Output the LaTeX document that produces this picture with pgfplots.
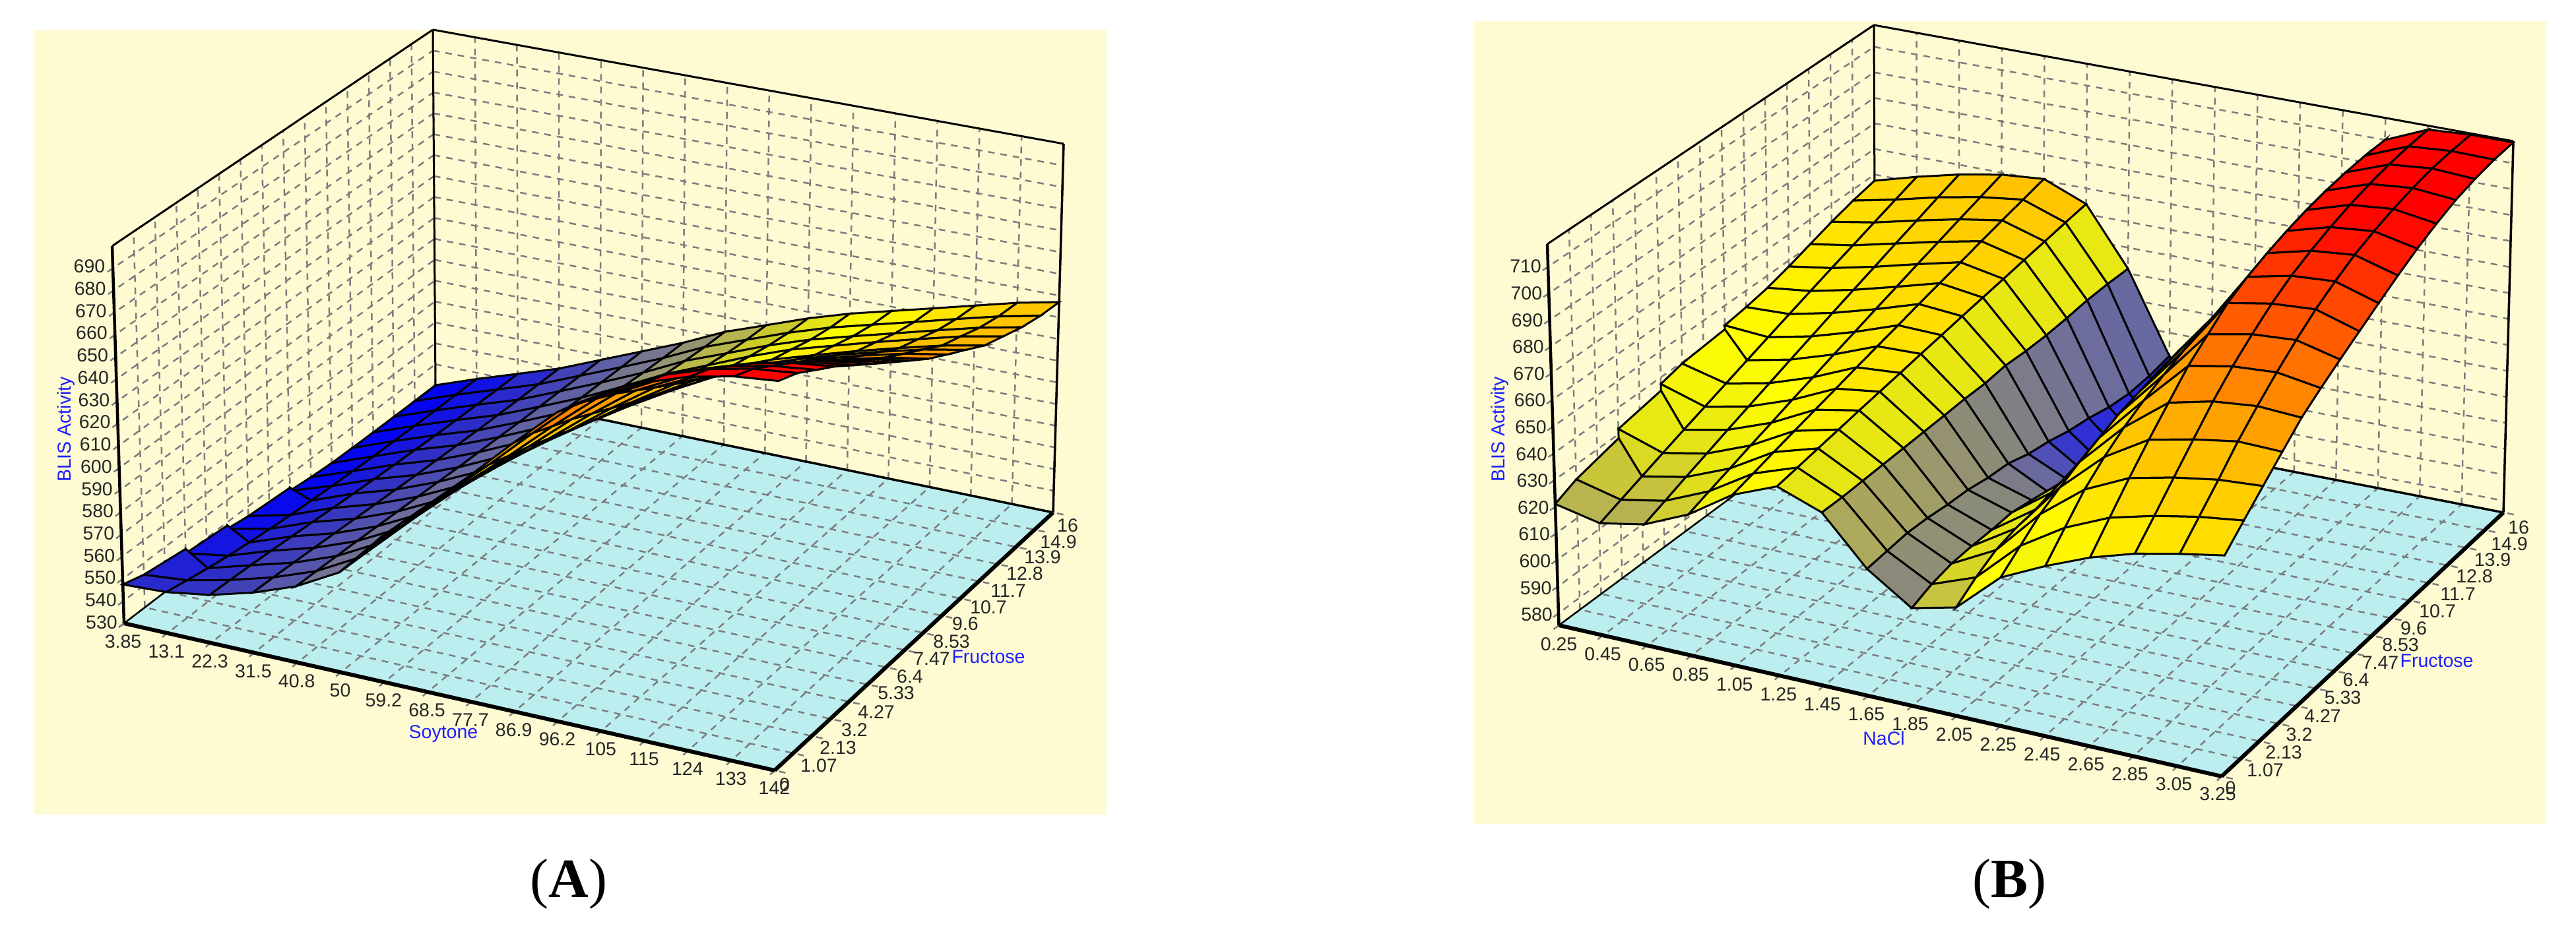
\documentclass[border=0pt]{standalone}
\usepackage{fontspec}
\setmainfont{Liberation Sans}
\newfontfamily\capf{Liberation Serif}
\usepackage{pgfplots}
\pgfplotsset{compat=1.18}
\definecolor{bgc}{RGB}{254,251,211}
\definecolor{floorc}{RGB}{188,238,240}
\definecolor{gridc}{RGB}{125,125,125}
\definecolor{labc}{RGB}{30,30,255}
\tikzset{
 lb/.style={font=\fontsize{28.5}{30}\selectfont,inner sep=0pt,anchor=center,text=black!85},
 tl/.style={lb,text=labc},
 captxt/.style={font=\fontsize{84}{90}\selectfont\capf,inner sep=0pt,anchor=center}}
\pgfplotsset{
 panel/.style={scale only axis,width=1952pt,height=1409pt,ymin=0,ymax=1409,y dir=reverse,hide axis,clip=false},
 gfl/.style={no markers,gridc,line width=2.5pt,dash pattern=on 10pt off 9pt},
 gwl/.style={no markers,gridc,line width=2.5pt,dash pattern=on 10pt off 9pt},
 fr/.style={no markers,black,line width=#1}}
\newcommand\seg[7]{\addplot[#1,forget plot] table[row sep=\\,header=false,
  x expr={PX(\thisrowno{0}/15,\thisrowno{1}/15,NZ(\thisrowno{2}))},
  y expr={PY(\thisrowno{0}/15,\thisrowno{1}/15,NZ(\thisrowno{2}))}]{#2 #3 #4\\#5 #6 #7\\};}
\newcommand\floorq[1]{\addplot[draw=none,fill=floorc,forget plot] table[row sep=\\,header=false,
  x expr={PX(\thisrowno{0}/15,\thisrowno{1}/15,NZ(\thisrowno{2}))},
  y expr={PY(\thisrowno{0}/15,\thisrowno{1}/15,NZ(\thisrowno{2}))}]{0 0 #1\\15 0 #1\\15 15 #1\\0 15 #1\\} --cycle;}
\newcommand\walls[3]{%
 \pgfplotsinvokeforeach{0,...,15}{\seg{gfl}{##1}{-0.25}{#1}{##1}{15}{#1}\seg{gfl}{15.25}{##1}{#1}{0}{##1}{#1}\seg{gwl}{##1}{15}{#1}{##1}{15}{#2}\seg{gwl}{0}{##1}{#1}{0}{##1}{#2}}
 \pgfplotsinvokeforeach{#3}{\seg{gwl}{0}{-0.25}{##1}{0}{15}{##1}\seg{gwl}{0}{15}{##1}{15}{15}{##1}}
 \seg{fr=2.5pt}{0}{0}{#1}{0}{15}{#1}\seg{fr=3.5pt}{0}{15}{#1}{15}{15}{#1}
 \seg{fr=3pt}{0}{15}{#1}{0}{15}{#2}\seg{fr=3.5pt}{15}{15}{#1}{15}{15}{#2}
 \seg{fr=3pt}{0}{0}{#2}{0}{15}{#2}\seg{fr=3pt}{0}{15}{#2}{15}{15}{#2}
 \seg{fr=6pt}{0}{0}{#1}{15}{0}{#1}\seg{fr=6pt}{15}{0}{#1}{15}{15}{#1}\seg{fr=4.5pt}{0}{0}{#1}{0}{0}{#2}}
\newcommand\xl[2]{\node[lb] at (axis cs:{\xa+\xb*#1},{\ya+\yb*#1}) {#2};}
\newcommand\yl[3]{\node[lb] at (axis cs:#1,#2) {#3};}
\begin{document}
\begin{tikzpicture}
\def\xa{186.5}\def\xb{65.8}\def\ya{973}\def\yb{14.8}
\begin{axis}[panel,at={(0pt,0pt)},xmin=0,xmax=1952,
 declare function={
  PX(\u,\v,\w)=(1-\w)*((1-\v)*((1-\u)*188+\u*1174)+\v*((1-\u)*660+\u*1596))+\w*((1-\v)*((1-\u)*170+\u*1180)+\v*((1-\u)*656+\u*1612));
  PY(\u,\v,\w)=(1-\w)*((1-\v)*((1-\u)*945+\u*1168)+\v*((1-\u)*584+\u*777))+\w*((1-\v)*((1-\u)*373+\u*556)+\v*((1-\u)*45+\u*218));
  NZ(\z)=(\z-530)/170;},
 colormap={cmA}{rgb255(535)=(0,0,245) rgb255(548)=(45,45,200) rgb255(555)=(70,70,180) rgb255(565)=(105,105,160) rgb255(575)=(130,130,130) rgb255(585)=(175,175,90) rgb255(595)=(205,205,40) rgb255(608)=(255,255,0) rgb255(625)=(255,200,0) rgb255(648)=(255,140,0) rgb255(665)=(255,80,0) rgb255(680)=(255,0,0)},
 point meta min=535,point meta max=680]
\addplot[draw=none,fill=white,forget plot] coordinates {(0,0)(1952,0)(1952,1409)(0,1409)} --cycle;
\addplot[draw=none,fill=bgc,forget plot] coordinates {(52,45)(1677,45)(1677,1235)(52,1235)} --cycle;
\floorq{530}
\walls{530}{700}{530,540,...,690}
\addplot[surf,shader=faceted,faceted color=black,line width=3pt,mesh/rows=16,mesh/cols=16,point meta={\thisrowno{0}},forget plot]
 table[header=false,
  x expr={PX(mod(\coordindex,16)/15,(15-floor(\coordindex/16))/15,NZ(\thisrowno{0}))},
  y expr={PY(mod(\coordindex,16)/15,(15-floor(\coordindex/16))/15,NZ(\thisrowno{0}))}]{
530
537
543.5
550
558
566
574
583
590
597
603
608
613
618
623
627
530
537.1
543.6
550.1
558.1
566.1
574.3
583.4
590.6
597.7
603.9
609
614
619.1
624
628
530.1
537.2
543.9
550.3
558.3
566.4
574.9
584.3
591.7
599.2
605.7
611
616.1
621.2
626.1
630
530.2
537.4
544.2
550.6
558.5
566.7
575.8
585.5
593.4
601.4
608.4
613.9
619.3
624.4
629.3
633
530.4
537.7
544.6
550.9
558.8
567.1
576.7
586.8
595.1
603.6
611
616.8
622.4
627.5
632.3
636
530.7
538
545.2
551.4
559.2
567.7
578.2
588.9
598
607.3
615.6
621.9
627.7
632.9
637.6
641.1
531.5
538.5
545.7
551.9
559.6
568.3
579.7
591
600.8
610.9
620
626.7
632.9
638.2
642.7
646
532.6
539
546.3
552.4
560
568.9
581.2
593
603.6
614.5
624.5
631.6
638.1
643.4
647.9
651
534
539.6
547
553
560.6
569.6
583
595.5
607
619
629.9
637.6
644.4
649.8
654.1
657
535.5
540.3
547.7
553.6
561.1
570.3
584.7
598
610.4
623.3
635.2
643.4
650.6
656.1
660.3
663
537
541.2
548.5
554.2
561.6
571
586.5
600.6
613.8
627.7
640.6
649.4
656.9
662.5
666.6
669
538.5
542.2
549.2
554.8
562.1
571.7
588.3
603
617.2
632.1
646
655.3
663.1
668.8
672.8
675
540.2
543.4
549.9
555.4
562.6
572.4
590.1
605.6
620.6
636.5
651.4
661.2
669.4
675.2
679
681
542.2
544.9
550.5
555.9
563
573
591.6
607.6
623.4
640.1
655.8
666.1
674.6
680.5
684.2
686
544.8
546.6
551
556.4
563.4
573.6
593.1
609.7
626.3
643.8
660.3
671
679.8
685.8
689.4
691
547.5
548.4
551.4
556.7
563.7
574
594
611
628
646
663
674
683
689
692.5
694
};
\pgfplotsinvokeforeach{530,540,...,690}{\node[lb] at (axis cs:{154-(#1-530)/160*18.5},{943.5-(#1-530)/160*539.5}) {#1};}
\xl{0}{3.85}\xl{1}{13.1}\xl{2}{22.3}\xl{3}{31.5}\xl{4}{40.8}\xl{5}{50}\xl{6}{59.2}\xl{7}{68.5}\xl{8}{77.7}\xl{9}{86.9}\xl{10}{96.2}\xl{11}{105}\xl{12}{115}\xl{13}{124}\xl{14}{133}\xl{15}{142}
\yl{1189}{1190}{0}\yl{1241}{1161}{1.07}\yl{1270}{1134}{2.13}\yl{1295}{1107}{3.2}\yl{1328}{1080}{4.27}\yl{1358}{1051}{5.33}\yl{1379}{1026}{6.4}\yl{1412}{999}{7.47}\yl{1442}{973}{8.53}\yl{1463}{946}{9.6}\yl{1498}{921}{10.7}\yl{1528}{896}{11.7}\yl{1553}{870}{12.8}\yl{1580}{845}{13.9}\yl{1604}{822}{14.9}\yl{1618}{797}{16}
\node[tl,rotate=90] at (axis cs:100,651) {BLIS Activity};
\node[tl] at (axis cs:672,1112) {Soytone};
\node[tl] at (axis cs:1498,996) {Fructose};
\node[captxt] at (axis cs:862,1340) {(\textbf{A})};
\end{axis}
\begin{scope}
\def\xa{2362.5}\def\xb{66.57}\def\ya{977}\def\yb{15.13}
\begin{axis}[panel,at={(1952pt,0pt)},xmin=1952,xmax=3904,
 declare function={
  PX(\u,\v,\w)=(1-\w)*((1-\v)*((1-\u)*2362.5+\u*3367)+\v*((1-\u)*2842+\u*3794))+\w*((1-\v)*((1-\u)*2345+\u*3375)+\v*((1-\u)*2840+\u*3809));
  PY(\u,\v,\w)=(1-\w)*((1-\v)*((1-\u)*948+\u*1177)+\v*((1-\u)*592+\u*777))+\w*((1-\v)*((1-\u)*370+\u*570)+\v*((1-\u)*38+\u*214));
  NZ(\z)=(\z-575.5)/143;
  AD(\i,\j)=(abs(\i-6)<.5)*(-24-20*\j/15)+(abs(\i-7)<.5)*(-10*\j/15)+(abs(\i-8)<.5)*(-13-9.5*max(0,min(\j-6.5,5)))+(abs(\i-9)<.5)*30;},
 colormap={cmB}{rgb255(560)=(0,0,245) rgb255(580)=(40,40,220) rgb255(590)=(70,70,190) rgb255(600)=(105,105,160) rgb255(610)=(135,135,125) rgb255(620)=(180,175,85) rgb255(630)=(230,230,20) rgb255(640)=(255,255,0) rgb255(655)=(255,225,0) rgb255(670)=(255,190,0) rgb255(685)=(255,130,0) rgb255(700)=(255,70,0) rgb255(712)=(255,0,0)},
 point meta min=560,point meta max=712]
\addplot[draw=none,fill=white,forget plot] coordinates {(1952,0)(3904,0)(3904,1409)(1952,1409)} --cycle;
\addplot[draw=none,fill=bgc,forget plot] coordinates {(2234,32)(3859,32)(3859,1249)(2234,1249)} --cycle;
\floorq{575.5}
\walls{575.5}{718.5}{580,590,...,710}
\addplot[surf,shader=faceted,faceted color=black,line width=3pt,mesh/rows=16,mesh/cols=16,
 point meta={\thisrowno{0}+AD(mod(\coordindex,16),15-floor(\coordindex/16))},forget plot]
 table[header=false,
  x expr={PX(mod(\coordindex,16)/15,(15-floor(\coordindex/16))/15,NZ(\thisrowno{0}))},
  y expr={PY(mod(\coordindex,16)/15,(15-floor(\coordindex/16))/15,NZ(\thisrowno{0}))}]{
657.6
662.2
666.2
669.2
670.6
663.9
641.8
611
595
606
660
685
710
717
718
718
655.7
659.2
663.2
666.4
668.5
662.7
642
609.5
595
610
660
684.8
710
716.5
717.7
717.4
653.3
656.2
660.1
663.7
666.4
661.4
641.8
609
595
612
660
684.3
709.5
715.5
717
716
650.5
653.2
657.1
660.9
664.3
660.2
641
610
596
616
660
683.5
708.5
714
715.5
714
647.7
650.3
654
658.2
662.1
658.9
640.5
612
598
618
660
682.5
707
712
713.5
711
645.3
647.3
651
655.4
660
657.7
640.5
613.3
601
620
660
681
705
709.5
711
707.5
643.7
644.3
648
652.7
657.9
656.5
641
615.4
605
623
659.5
679
702.5
706.5
708
703.4
642.5
641.3
644.9
649.9
655.7
655.2
640.2
616.8
609.4
625
658
677
699.5
703
704
699
641
638.3
641.9
647.2
653.6
654
640.3
619.3
611
627
656
674.5
695.6
698.5
699.5
694.5
639.5
635.3
638.8
644.4
651.5
652.7
640
620
615
628
654
671.5
689.8
693
694
690
637.5
632.3
635.8
641.7
649.3
651.5
639.8
621.5
616.4
628
651
668
684
687
688
685.4
635
629.4
632.8
638.9
647.2
650.3
639.6
622
616
627
648
664
676.3
680
681.5
680.5
632
626.4
629.7
636.2
645.1
649
639.4
623
616
626
644.5
659
668.6
672
674.5
674
628.5
623.4
626.7
633.4
643
647.8
639.2
623.4
615.6
624
640.6
653
660.5
664
666.5
667.5
624.5
620.4
623.6
630.7
640.8
646.5
639
622.7
614
620
635
645
652
656
659
661
621
617.4
620.6
627.9
638.7
645.3
639.2
622
611.2
615
629.4
637
643.5
648.3
651.6
654.4
};
\pgfplotsinvokeforeach{580,590,...,710}{\node[lb] at (axis cs:{2329-(#1-580)/130*17},{932-(#1-580)/130*528}) {#1};}
\xl{0}{0.25}\xl{1}{0.45}\xl{2}{0.65}\xl{3}{0.85}\xl{4}{1.05}\xl{5}{1.25}\xl{6}{1.45}\xl{7}{1.65}\xl{8}{1.85}\xl{9}{2.05}\xl{10}{2.25}\xl{11}{2.45}\xl{12}{2.65}\xl{13}{2.85}\xl{14}{3.05}\xl{15}{3.25}
\yl{3380.5}{1195}{0}\yl{3433}{1168}{1.07}\yl{3461}{1141}{2.13}\yl{3484.5}{1114}{3.2}\yl{3520}{1085.5}{4.27}\yl{3550.5}{1058}{5.33}\yl{3570.5}{1031}{6.4}\yl{3607.5}{1004.6}{7.47}\yl{3638}{977.6}{8.53}\yl{3658}{952.5}{9.6}\yl{3694}{927}{10.7}\yl{3725}{900.4}{11.7}\yl{3750}{874}{12.8}\yl{3777.5}{849}{13.9}\yl{3803}{825}{14.9}\yl{3817}{800}{16}
\node[tl,rotate=90] at (axis cs:2273,651) {BLIS Activity};
\node[tl] at (axis cs:2855,1119) {NaCl};
\node[tl] at (axis cs:3693,1002) {Fructose};
\node[captxt] at (axis cs:3045,1340) {(\textbf{B})};
\end{axis}
\end{scope}
\end{tikzpicture}
\end{document}
